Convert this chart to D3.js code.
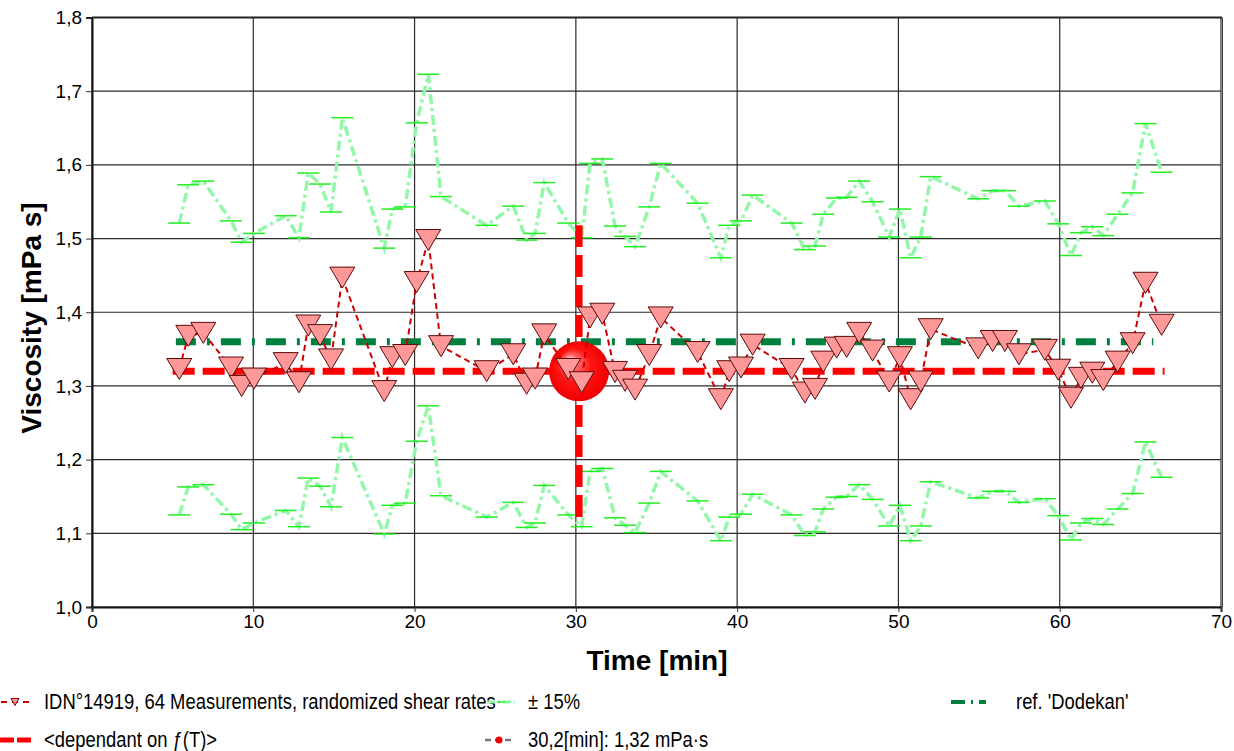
<!DOCTYPE html>
<html><head><meta charset="utf-8">
<script src="https://cdn.jsdelivr.net/npm/d3@7"></script>
<style>
html,body{margin:0;padding:0;background:#fff;}
svg{display:block;}
text{font-family:"Liberation Sans",Arial,sans-serif;}
</style></head>
<body>
<svg id="chart" width="1234" height="751"></svg>
<script>
// ---- data ----
const times = [5.41,5.97,6.90,8.62,9.28,10.04,12.01,12.83,13.41,14.14,14.82,15.52,18.12,18.62,19.42,20.13,20.85,21.64,24.47,26.12,26.95,27.47,28.04,29.53,30.36,30.88,31.64,32.43,33.05,33.67,34.55,35.26,37.55,38.99,39.51,40.24,40.96,43.38,44.20,44.83,45.34,46.17,46.79,47.57,48.40,49.43,50.09,50.76,51.38,52.00,54.95,55.84,56.60,57.47,59.08,59.91,60.70,61.32,62.02,62.70,63.59,64.52,65.32,66.32];
const viscosity = [1.323,1.368,1.372,1.325,1.300,1.310,1.331,1.305,1.382,1.369,1.336,1.447,1.293,1.339,1.342,1.441,1.498,1.354,1.320,1.343,1.303,1.310,1.370,1.323,1.305,1.393,1.398,1.319,1.307,1.295,1.342,1.393,1.346,1.282,1.320,1.325,1.356,1.323,1.291,1.296,1.333,1.352,1.353,1.372,1.348,1.306,1.339,1.282,1.306,1.377,1.351,1.361,1.361,1.343,1.349,1.322,1.284,1.311,1.318,1.308,1.333,1.358,1.440,1.383];
const upperBand = [1.521,1.573,1.578,1.524,1.495,1.507,1.531,1.501,1.589,1.574,1.536,1.664,1.487,1.540,1.543,1.657,1.723,1.557,1.518,1.544,1.498,1.507,1.576,1.521,1.501,1.602,1.608,1.517,1.503,1.489,1.543,1.602,1.548,1.474,1.518,1.524,1.559,1.521,1.485,1.490,1.533,1.555,1.556,1.578,1.550,1.502,1.540,1.474,1.502,1.584,1.554,1.565,1.565,1.544,1.551,1.520,1.477,1.508,1.516,1.504,1.533,1.562,1.656,1.590];
const lowerBand = [1.125,1.163,1.166,1.126,1.105,1.114,1.131,1.109,1.175,1.164,1.136,1.230,1.099,1.138,1.141,1.225,1.273,1.151,1.122,1.142,1.108,1.114,1.165,1.125,1.109,1.184,1.188,1.121,1.111,1.101,1.141,1.184,1.144,1.090,1.122,1.126,1.153,1.125,1.097,1.102,1.133,1.149,1.150,1.166,1.146,1.110,1.138,1.090,1.110,1.170,1.148,1.157,1.157,1.142,1.147,1.124,1.091,1.114,1.120,1.112,1.133,1.154,1.224,1.176];
const refDodekanX = [5.2, 65.8];
const refDodekanY = [1.36, 1.36];
const refTX = [5.0, 66.5];
const refTY = [1.32, 1.32];
const markerX = [30.2, 30.2];
const markerY = [1.122, 1.518];
const markerPoint = [30.2, 1.32];
const xTicks = [0,10,20,30,40,50,60,70];
const yTicks = [1.0,1.1,1.2,1.3,1.4,1.5,1.6,1.7,1.8];
const xTitle = "Time [min]";
const yTitle = "Viscosity [mPa s]";
const legendLabels = ["IDN°14919, 64 Measurements, randomized shear rates","± 15%","ref. 'Dodekan'","<dependant on ƒ(T)>","30,2[min]: 1,32 mPa·s"];

// ---- layout ----
const svg = d3.select("#chart");
const L = 92, R = 1221, T = 17.5, B = 607;
const x = d3.scaleLinear().domain([0,70]).range([L,R]);
const y = d3.scaleLinear().domain([1.0,1.8]).range([B,T]);
const fmt = d3.formatLocale({decimal:",",thousands:".",grouping:[3],currency:["",""]}).format(".1f");

const defs = svg.append("defs");
const rg = defs.append("radialGradient").attr("id","sphere").attr("cx","50%").attr("cy","50%").attr("r","50%").attr("fx","32%").attr("fy","30%");
rg.append("stop").attr("offset","0%").attr("stop-color","#ffffff");
rg.append("stop").attr("offset","22%").attr("stop-color","#ff7070");
rg.append("stop").attr("offset","55%").attr("stop-color","#ff1414");
rg.append("stop").attr("offset","100%").attr("stop-color","#f00000");

// grid
const g = svg.append("g");
g.selectAll("line.vg").data(xTicks).join("line")
  .attr("x1",d=>x(d)).attr("x2",d=>x(d)).attr("y1",T).attr("y2",B)
  .attr("stroke","#2a2a2a").attr("stroke-width",1.2);
g.selectAll("line.hg").data(yTicks).join("line")
  .attr("x1",L).attr("x2",R).attr("y1",d=>y(d)).attr("y2",d=>y(d))
  .attr("stroke","#2a2a2a").attr("stroke-width",1.2);

// axes
const yAxis = d3.axisLeft(y).tickValues(yTicks).tickFormat(fmt).tickSize(6).tickPadding(4);
const xAxis = d3.axisBottom(x).tickValues(xTicks).tickFormat(d3.format("d")).tickSize(5).tickPadding(3);
const ya = svg.append("g").attr("transform",`translate(${L},0)`).call(yAxis);
const xa = svg.append("g").attr("transform",`translate(0,${B})`).call(xAxis);
[ya,xa].forEach(a=>{
  a.select(".domain").attr("stroke","#111").attr("stroke-width",2);
  a.selectAll(".tick line").attr("stroke","#333");
  a.selectAll(".tick text").attr("font-family","'Liberation Sans',Arial,sans-serif").attr("font-size",19).attr("fill","#000");
});
// top & right border
svg.append("line").attr("x1",L).attr("x2",R+1).attr("y1",T).attr("y2",T).attr("stroke","#222").attr("stroke-width",2);
svg.append("line").attr("x1",R+1.5).attr("x2",R+1.5).attr("y1",T).attr("y2",B).attr("stroke","#444").attr("stroke-width",1);

// axis titles
svg.append("text").attr("x",657).attr("y",670).attr("text-anchor","middle")
  .attr("font-size",28).attr("font-weight","bold").text(xTitle);
svg.append("text").attr("transform","translate(41,318) rotate(-90)").attr("text-anchor","middle")
  .attr("font-size",28).attr("font-weight","bold").text(yTitle);

const line = d3.line().x(d=>x(d[0])).y(d=>y(d[1]));
const pts = times.map((t,i)=>[t,viscosity[i]]);
const up = times.map((t,i)=>[t,upperBand[i]]);
const lo = times.map((t,i)=>[t,lowerBand[i]]);

// band lines
[up,lo].forEach(band=>{
  svg.append("path").attr("d",line(band)).attr("fill","none")
    .attr("stroke","#93f7a9").attr("stroke-width",3.5).attr("stroke-dasharray","10,4,3,4");
  svg.append("g").selectAll("line").data(band).join("line")
    .attr("x1",d=>x(d[0])-11).attr("x2",d=>x(d[0])+11)
    .attr("y1",d=>y(d[1])).attr("y2",d=>y(d[1]))
    .attr("stroke","#22ee22").attr("stroke-width",1.5);
});

// reference lines
svg.append("path").attr("d",line(refDodekanX.map((v,i)=>[v,refDodekanY[i]])))
  .attr("fill","none").attr("stroke","#00803f").attr("stroke-width",7).attr("stroke-dasharray","20,11,3,11");
svg.append("path").attr("d",line(refTX.map((v,i)=>[v,refTY[i]])))
  .attr("fill","none").attr("stroke","#ff0000").attr("stroke-width",7).attr("stroke-dasharray","22,8");
svg.append("path").attr("d",line(markerX.map((v,i)=>[v,markerY[i]])))
  .attr("fill","none").attr("stroke","#ff0000").attr("stroke-width",7).attr("stroke-dasharray","22,8");

// sphere
svg.append("circle").attr("cx",x(markerPoint[0])).attr("cy",y(markerPoint[1])).attr("r",30)
  .attr("fill","url(#sphere)");

// data line
svg.append("path").attr("d",line(pts)).attr("fill","none")
  .attr("stroke","#cc0000").attr("stroke-width",2).attr("stroke-dasharray","6,4");
// triangles
svg.append("g").selectAll("path").data(pts).join("path")
  .attr("d","M-12.5,-10.5L12.5,-10.5L0,10.5Z")
  .attr("transform",d=>`translate(${x(d[0])},${y(d[1])})`)
  .attr("fill","#ff9999").attr("stroke","#5a0a0a").attr("stroke-width",1);

// legend
const lg = svg.append("g").attr("font-size",19);
const r1 = 702, r2 = 740;
function ltext(xp, yp, s){
  lg.append("text").attr("transform",`translate(${xp},${yp+7}) scale(0.97,1.14)`).text(s);
}
// 1 data
lg.append("line").attr("x1",1).attr("x2",29).attr("y1",r1).attr("y2",r1).attr("stroke","#cc0000").attr("stroke-width",2).attr("stroke-dasharray","6,5");
lg.append("path").attr("d","M-4,-3.5L4,-3.5L0,3.5Z").attr("transform",`translate(15,${r1})`).attr("fill","#ff9999").attr("stroke","#8a0000").attr("stroke-width",1);
ltext(44, r1, legendLabels[0]);
// 2 band
lg.append("line").attr("x1",487).attr("x2",515).attr("y1",r1).attr("y2",r1).attr("stroke","#93f7a9").attr("stroke-width",3).attr("stroke-dasharray","8,3,2,3");
lg.append("line").attr("x1",497).attr("x2",505).attr("y1",r1).attr("y2",r1).attr("stroke","#22ee22").attr("stroke-width",1.5);
ltext(528, r1, legendLabels[1]);
// 3 ref Dodekan
lg.append("line").attr("x1",951).attr("x2",986).attr("y1",r1).attr("y2",r1).attr("stroke","#00803f").attr("stroke-width",4).attr("stroke-dasharray","14,6,2,6");
ltext(1016, r1, legendLabels[2]);
// 4 dependant
lg.append("line").attr("x1",0).attr("x2",31).attr("y1",r2).attr("y2",r2).attr("stroke","#ff0000").attr("stroke-width",5).attr("stroke-dasharray","14,3");
ltext(44, r2, legendLabels[3]);
// 5 marker
lg.append("line").attr("x1",485).attr("x2",515).attr("y1",r2).attr("y2",r2).attr("stroke","#777").attr("stroke-width",2.5).attr("stroke-dasharray","6,4");
lg.append("circle").attr("cx",499).attr("cy",r2).attr("r",3.5).attr("fill","#ee0000");
ltext(528, r2, legendLabels[4]);
</script>
</body></html>
